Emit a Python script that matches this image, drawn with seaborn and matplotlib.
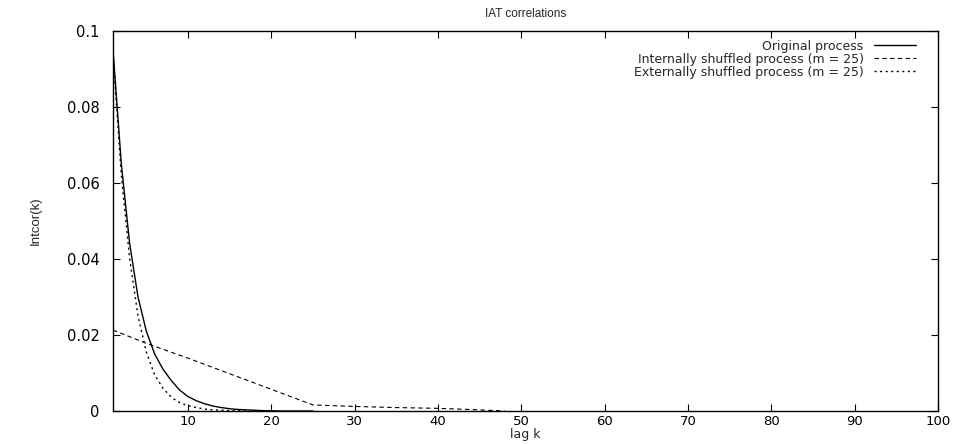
import numpy as np
import pandas as pd
import seaborn as sns
import matplotlib.pyplot as plt

sns.set_theme(style="white")
plt.rcParams["font.family"] = ["DejaVu Sans"]

# lag values and correlation readings
lag_orig = list(range(1, 26))
orig = [0.095, 0.065, 0.044, 0.030, 0.021, 0.015, 0.011, 0.008, 0.0055, 0.0038,
        0.0027, 0.0019, 0.0013, 0.0009, 0.0006, 0.0004, 0.0003, 0.0002, 0.0001, 0.00005,
        0.0, 0.0, 0.0, 0.0, 0.0]

lag_ext = list(range(1, 21))
ext = [0.094, 0.062, 0.040, 0.025, 0.0155, 0.0095, 0.006, 0.0036, 0.0022, 0.0014,
       0.0009, 0.0005, 0.0003, 0.0002, 0.0001, 0.00005, 0.0, 0.0, 0.0, 0.0]

lag_int = [1, 5, 10, 15, 20, 25, 30, 35, 40, 45, 48]
internal = [0.0213, 0.0178, 0.0139, 0.0098, 0.0057, 0.0016, 0.0012, 0.0009, 0.0007, 0.0003, 0.0]

labels = ["Original process",
          "Internally shuffled process (m = 25)",
          "Externally shuffled process (m = 25)"]

df = pd.concat([
    pd.DataFrame({"lag": lag_orig, "val": orig, "series": labels[0]}),
    pd.DataFrame({"lag": lag_int, "val": internal, "series": labels[1]}),
    pd.DataFrame({"lag": lag_ext, "val": ext, "series": labels[2]}),
])

fig = plt.figure(figsize=(9.57, 4.44), dpi=100)
ax = fig.add_axes([113 / 957, 1 - 411 / 444, (938 - 113) / 957, (411 - 31) / 444])

styles = {labels[0]: "-", labels[1]: (0, (4, 3)), labels[2]: (0, (1.5, 2.5))}
widths = {labels[0]: 1.0, labels[1]: 0.8, labels[2]: 1.0}
for name in labels:
    sub = df[df["series"] == name]
    sns.lineplot(data=sub, x="lag", y="val", ax=ax, color="black",
                 linestyle=styles[name], linewidth=widths[name], label=name)

ax.set_xlim(1, 100)
ax.set_ylim(0, 0.1)
ax.set_xticks(range(10, 101, 10))
ax.set_yticks([0, 0.02, 0.04, 0.06, 0.08, 0.1])
ax.set_yticklabels(["0", "0.02", "0.04", "0.06", "0.08", "0.1"])
ax.tick_params(direction="in", length=5, width=0.8, colors="black",
               top=True, right=True, bottom=True, left=True)
ax.tick_params(axis="y", labelsize=10.5, pad=9.5)
ax.tick_params(axis="x", labelsize=9.5, pad=3)
for s in ax.spines.values():
    s.set_color("black")
    s.set_linewidth(1.0)

ax.set_title("IAT correlations", fontsize=8.5, pad=10,
             family=["Liberation Sans", "DejaVu Sans"])
ax.set_xlabel("lag k", fontsize=9, labelpad=0)
ax.set_ylabel("Intcor(k)", fontsize=9.5, labelpad=18,
              family=["Liberation Sans Narrow", "Liberation Sans", "DejaVu Sans"])

leg = ax.legend(loc="upper right", frameon=False, fontsize=9, markerfirst=False,
                handlelength=3.4, handletextpad=0.8, labelspacing=0.0,
                borderaxespad=0.0, bbox_to_anchor=(0.9795, 0.99))
for t in leg.get_texts():
    t.set_ha("right")
leg._legend_box.align = "right"

fig.savefig("out.png", dpi=100)
